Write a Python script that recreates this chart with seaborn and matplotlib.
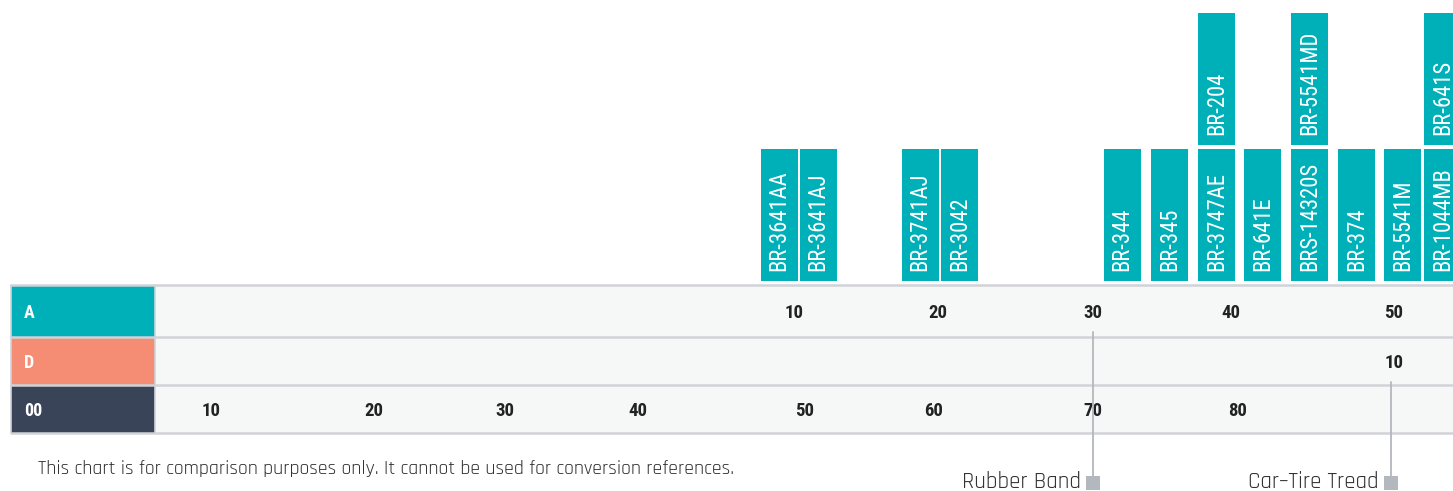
import matplotlib
matplotlib.use("Agg")
import matplotlib.pyplot as plt
from matplotlib.patches import Rectangle
import seaborn as sns

# product bars: name, position on the hardness strip, stacking tier
products = ["BR-3641AA", "BR-3641AJ", "BR-3741AJ", "BR-3042", "BR-344", "BR-345",
            "BR-3747AE", "BR-204", "BR-641E", "BRS-14320S", "BR-5541MD", "BR-374",
            "BR-5541M", "BR-1044MB", "BR-641S"]
product_pos = [779, 818, 920, 959.5, 1122, 1169.5,
               1216.5, 1216.5, 1262.5, 1309.5, 1309.5, 1356.5,
               1402.5, 1442.5, 1442.5]
product_tier = [0, 0, 0, 0, 0, 0, 0, 1, 0, 0, 1, 0, 0, 0, 1]

# scale rows
row_names = ["A", "D", "00"]
row_colors = ["#00b0b9", "#f58c74", "#3a4458"]
shore_a_values = [10, 20, 30, 40, 50]
shore_a_pos = [794, 938, 1093, 1231, 1394]
shore_d_values = [10]
shore_d_pos = [1394]
shore_00_values = [10, 20, 30, 40, 50, 60, 70, 80]
shore_00_pos = [211, 374, 505, 638, 805, 934, 1093, 1238]

# reference materials
ref_names = ["Rubber Band", "Car\u2013Tire Tread"]
ref_pos = [1093, 1391]
ref_row = [0, 1]

note = "This chart is for comparison purposes only. It cannot be used for conversion references."

TEAL = "#00b0b9"
GRID = "#d0d3d8"
COND = ["Roboto Condensed", "Barlow Condensed", "DejaVu Sans"]
SQUARE = ["Rajdhani", "Barlow Condensed", "DejaVu Sans"]

sns.set_theme(style="white")
plt.rcParams["font.family"] = COND

fig = plt.figure(figsize=(14.53, 4.91), dpi=100)
ax = fig.add_axes([0, 0, 1, 1])
ax.set_xlim(0, 1453)
ax.set_ylim(491, 0)
ax.axis("off")

# product bars
bar_h = 132
tier_step = 136
base = 281
for name, x, tier in zip(products, product_pos, product_tier):
    bottom = base - tier * tier_step
    ax.bar(x, -bar_h, bottom=bottom, width=37, color=TEAL, linewidth=0)
    ax.text(x, bottom - 10, name, rotation=90, ha="center", va="bottom",
            color="white", fontsize=16.3, fontweight="normal", family=COND)

# table
row_top = [285, 337, 385]
row_bot = [337, 385, 433]
ax.add_patch(Rectangle((155, 285), 1453 - 155, 433 - 285, color="#f6f7f7", lw=0))
for i, (name, col) in enumerate(zip(row_names, row_colors)):
    ax.add_patch(Rectangle((11, row_top[i]), 144, row_bot[i] - row_top[i], color=col, lw=0))
    ax.text(24, (row_top[i] + row_bot[i]) / 2 + 1.5, name, color="white", fontsize=13,
            fontweight="bold", ha="left", va="center", family=COND)
for y in [285, 337, 385, 433]:
    ax.plot([11, 1453], [y, y], color=GRID, lw=1.8, zorder=3)
ax.plot([11, 11], [285, 433], color=GRID, lw=1.2, zorder=3)
ax.plot([155, 155], [285, 433], color=GRID, lw=1.2, zorder=3)

scales = [(shore_a_values, shore_a_pos), (shore_d_values, shore_d_pos),
          (shore_00_values, shore_00_pos)]
for i, (vals, pos) in enumerate(scales):
    yc = (row_top[i] + row_bot[i]) / 2 + 1.5
    for v, x in zip(vals, pos):
        ax.text(x, yc, str(v), color="#222222", fontsize=13.5, fontweight="bold",
                ha="center", va="center", zorder=4, family=COND)

# reference connectors
for name, x, r in zip(ref_names, ref_pos, ref_row):
    y0 = (row_top[r] + row_bot[r]) / 2 + 21
    ax.plot([x, x], [y0, 476], color="#b3b8be", lw=1.3, zorder=5)
    ax.text(x - 12, 488, name, color="#333333", fontsize=16.5, ha="right",
            va="baseline", family=SQUARE)
sns.scatterplot(x=ref_pos, y=[483] * len(ref_pos), marker="s", s=95,
                color="#b3b8be", linewidth=0, ax=ax, zorder=6)
ax.set_xlim(0, 1453)
ax.set_ylim(491, 0)

ax.text(38, 474, note, color="#333333", fontsize=14.3, ha="left", va="baseline",
        family=SQUARE)

fig.savefig("out.png", dpi=100)
